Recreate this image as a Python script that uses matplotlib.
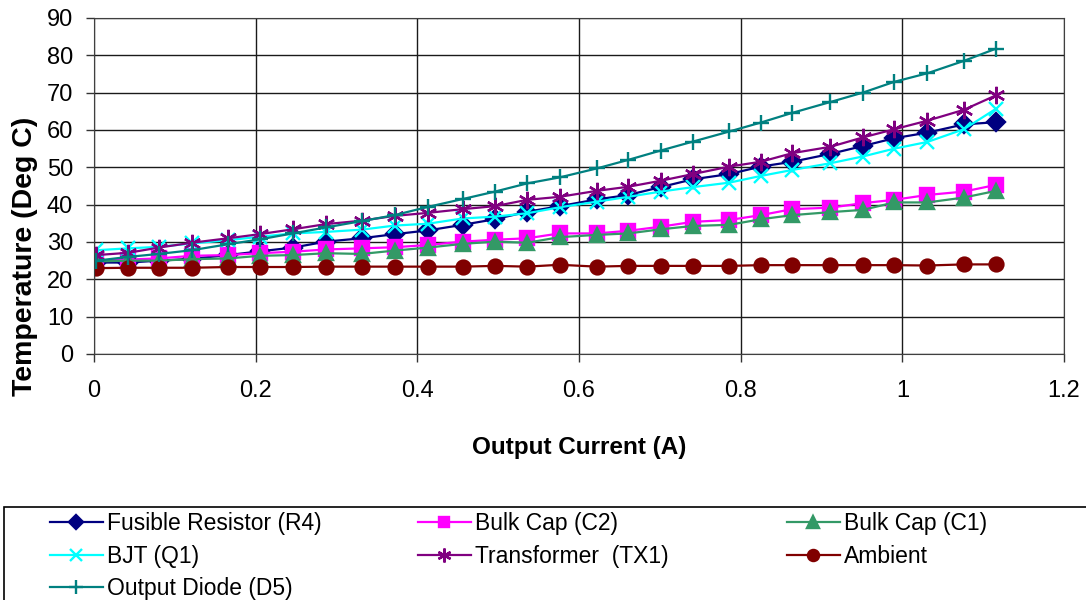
import numpy as np
import matplotlib
matplotlib.use("Agg")
from matplotlib import pyplot as plt
from matplotlib.patches import Rectangle

plt.rcParams['font.family'] = ['Liberation Sans', 'DejaVu Sans']

# output current (A)
current = [0.003, 0.042, 0.080, 0.121, 0.166, 0.205, 0.246, 0.287, 0.331, 0.372,
           0.413, 0.456, 0.496, 0.536, 0.576, 0.622, 0.661, 0.701, 0.741, 0.786,
           0.825, 0.864, 0.911, 0.951, 0.990, 1.031, 1.076, 1.116]

# temperatures (Deg C)
r4 = [24.5, 24.5, 25.0, 25.5, 26.5, 27.5, 28.5, 30.1, 31.0, 32.1, 33.1, 34.6, 36.1, 38.1,
      39.6, 41.4, 42.6, 44.7, 46.8, 48.2, 50.2, 51.5, 53.6, 55.7, 57.8, 59.3, 61.5, 62.1]
c2 = [25.0, 25.3, 25.6, 26.3, 26.5, 27.0, 27.4, 28.0, 28.3, 28.6, 29.2, 30.1, 30.6, 31.0,
      32.3, 32.3, 33.0, 34.1, 35.4, 35.9, 37.2, 38.8, 39.2, 40.4, 41.3, 42.6, 43.5, 45.3]
c1 = [24.8, 25.0, 25.0, 25.4, 25.6, 26.3, 26.5, 27.0, 26.8, 27.7, 28.5, 29.5, 30.1, 29.8,
      31.3, 31.9, 32.3, 33.4, 34.3, 34.6, 36.1, 37.2, 38.0, 38.6, 40.6, 40.6, 41.9, 43.7]
q1 = [27.8, 28.3, 28.7, 29.6, 30.5, 31.4, 32.3, 32.7, 33.3, 34.4, 34.9, 36.3, 36.8, 37.7,
      39.3, 40.8, 42.1, 43.5, 44.7, 45.9, 47.7, 49.3, 51.1, 52.9, 55.0, 56.8, 60.2, 65.7]
tx1 = [26.5, 27.1, 28.5, 29.8, 31.0, 32.1, 33.4, 34.8, 35.7, 37.0, 37.8, 38.8, 39.6, 41.3,
       42.1, 43.7, 44.8, 46.4, 48.2, 50.2, 51.5, 53.8, 55.5, 58.0, 60.2, 62.5, 65.4, 69.3]
ambient = [23.0, 23.1, 23.1, 23.1, 23.3, 23.3, 23.3, 23.4, 23.4, 23.4, 23.4, 23.4, 23.6, 23.4,
           23.9, 23.4, 23.6, 23.6, 23.6, 23.6, 23.8, 23.8, 23.8, 23.8, 23.8, 23.7, 24.0, 24.0]
d5 = [25.0, 26.0, 26.8, 27.8, 29.4, 30.7, 32.3, 33.9, 35.6, 37.2, 39.4, 41.5, 43.5, 45.7,
      47.3, 49.7, 52.0, 54.5, 56.9, 59.6, 62.0, 64.6, 67.5, 70.0, 72.9, 75.2, 78.5, 81.8]

xticks = [0, 0.2, 0.4, 0.6, 0.8, 1.0, 1.2]
xticklabels = ['0', '0.2', '0.4', '0.6', '0.8', '1', '1.2']

fig = plt.figure(figsize=(10.86, 6.0), dpi=100)
ax = fig.add_axes([94/1086, 1-354/600, 970/1086, 336/600])

star = (6, 2, 0)
series = [
    ('Fusible Resistor (R4)', r4, '#000080', 'D', 9),
    ('Bulk Cap (C2)', c2, '#FF00FF', 's', 9.5),
    ('Bulk Cap (C1)', c1, '#339966', '^', 10),
    ('BJT (Q1)', q1, '#00FFFF', 'x', 10),
    ('Transformer  (TX1)', tx1, '#800080', star, 12.5),
    ('Ambient', ambient, '#800000', 'o', 10),
    ('Output Diode (D5)', d5, '#008080', '+', 12),
]
lines = {}
for lab, vals, col, mk, ms in series:
    ln, = ax.plot(current, vals, color=col, marker=mk, markersize=ms, lw=1.6,
                  mew=1.7, label=lab)
    lines[lab] = ln

ax.set_xlim(0, 1.2)
ax.set_ylim(0, 90)
ax.set_xticks(xticks)
ax.set_xticklabels(xticklabels)
ax.set_yticks(np.arange(0, 91, 10))
ax.tick_params(labelsize=17, length=6, width=1, color='#333333')
ax.tick_params(axis='y', pad=9)
ax.tick_params(axis='x', pad=13)
ax.grid(True, color='#1a1a1a', lw=1.0)
ax.set_axisbelow(True)
for s in ax.spines.values():
    s.set_color('#404040')

ax.set_xlabel('Output Current (A)', fontsize=17.5, fontweight='bold')
ax.set_ylabel('Temperature (Deg C)', fontsize=20.5, fontweight='bold')
ax.xaxis.set_label_coords(0.5, -0.244)
ax.yaxis.set_label_coords(-0.058, 0.292)

# legend box (runs off the figure edge)
fig.patches.append(Rectangle((4/1086, -0.05), 1.05, 1-507/600+0.05,
                             transform=fig.transFigure, fill=False,
                             edgecolor='black', lw=1.2))
cols = [(['Fusible Resistor (R4)', 'BJT (Q1)', 'Output Diode (D5)'], 50),
        (['Bulk Cap (C2)', 'Transformer  (TX1)'], 418),
        (['Bulk Cap (C1)', 'Ambient'], 787)]
for names, xpx in cols:
    fig.legend([lines[k] for k in names], names, ncol=1, frameon=False,
               loc='upper left', bbox_to_anchor=(xpx/1086, 1-512/600),
               fontsize=16.5, handlelength=2.3, handletextpad=0.2,
               labelspacing=0.42, borderpad=0, borderaxespad=0,
               markerscale=0.8)

fig.savefig('out.png', dpi=100)
